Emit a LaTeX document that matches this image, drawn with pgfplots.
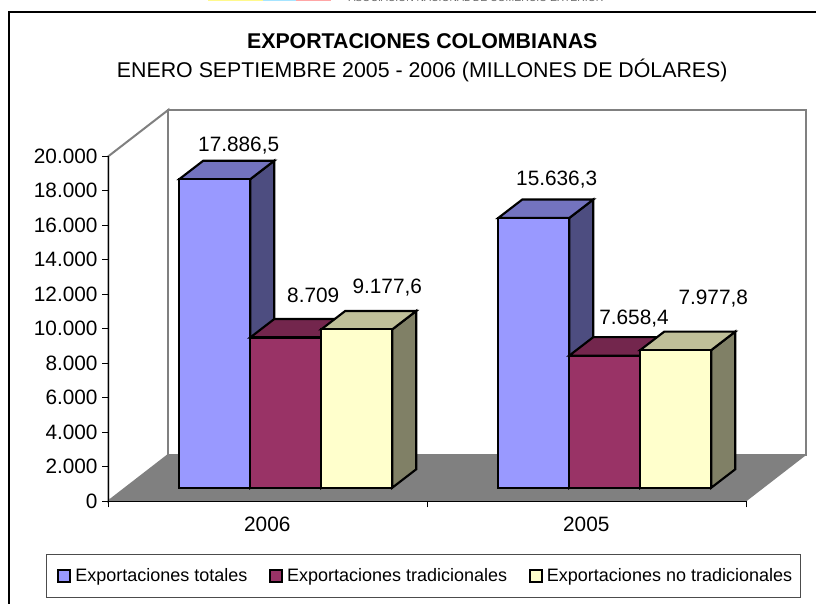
\documentclass[border=0pt]{standalone}
\usepackage{fontspec}
\setmainfont{Liberation Sans}
\usepackage{pgfplots}
\pgfplotsset{compat=1.18}

\definecolor{azul}{HTML}{9999FF}
\definecolor{azultop}{HTML}{7373BF}
\definecolor{azulside}{HTML}{4D4D80}
\definecolor{rojo}{HTML}{993366}
\definecolor{rojotop}{HTML}{73264D}
\definecolor{rojoside}{HTML}{4D1A33}
\definecolor{crema}{HTML}{FFFFCC}
\definecolor{crematop}{HTML}{BFBF99}
\definecolor{cremaside}{HTML}{808066}
\definecolor{piso}{HTML}{808080}

\newcommand{\fsize}[1]{\fontsize{#1}{#1}\selectfont}

% x runs in reference pixels from the axis origin, y in millones de dolares.
% Bars stand 790 above the floor edge; their depth is 24 in x and 1070 in y.
\begin{document}
\begin{tikzpicture}[x=1pt,y=1pt]
\begin{axis}[
    name=main,
    at={(0pt,0pt)}, anchor=origin,
    scale only axis, width=478.5pt, height=258.75pt,
    xmin=0, xmax=638, ymin=0, ymax=20000,
    clip=false, axis on top,
    axis x line=bottom, axis y line=left,
    axis line style={-, black, line width=0.8pt},
    tick style={black, line width=0.8pt},
    tick align=outside, major tick length=4.5pt,
    xtick={0,319,638}, xticklabels={},
    extra x ticks={159,478}, extra x tick labels={2006,2005},
    extra x tick style={major tick length=0pt},
    ytick={0,2000,...,20000},
    scaled y ticks=false,
    /pgf/number format/.cd, assume math mode=true, use comma=false, 1000 sep={.},
    /pgfplots/.cd,
    tick label style={font=\fsize{15.6pt}},
    xticklabel style={yshift=-8pt},
    legend columns=3,
    legend cell align=left,
    legend style={at={(-0.0981,-0.1528)}, anchor=north west,
        draw=black!70, line width=0.8pt, font=\fsize{13.5pt},
        inner xsep=4.5pt, inner ysep=8.5pt,
        /tikz/every even column/.append style={column sep=10.5pt}},
    legend image code/.code={
        \path[draw=none, fill=none] (-4.5pt,0pt) rectangle (10.8pt,0pt);
        \draw[#1, line width=1.5pt] (0pt,-4.4pt) rectangle (9pt,4.6pt);},
]
% walls and floor
\addplot[fill=white, draw=piso, line width=1.5pt, forget plot]
    coordinates {(0,0) (60,2690) (60,22690) (0,20000)} -- cycle;
\addplot[fill=white, draw=piso, line width=1.5pt, forget plot]
    coordinates {(60,2690) (698,2690) (698,22690) (60,22690)} -- cycle;
\addplot[fill=piso, draw=none, forget plot]
    coordinates {(0,0) (638,0) (698,2690) (60,2690)} -- cycle;

% 2006, Exportaciones totales 17886.5
\addplot[fill=azulside, draw=black, line width=1.6pt, forget plot]
    coordinates {(142,790) (166,1860) (166,19746.5) (142,18676.5)} -- cycle;
\addplot[fill=azultop, draw=black, line width=1.6pt, forget plot]
    coordinates {(71,18676.5) (142,18676.5) (166,19746.5) (95,19746.5)} -- cycle;
\addplot[fill=azul, draw=black, line width=1.6pt]
    coordinates {(71,790) (142,790) (142,18676.5) (71,18676.5)} -- cycle;
\addlegendentry{Exportaciones totales}

% 2006, Exportaciones tradicionales 8709
\addplot[fill=rojoside, draw=black, line width=1.6pt, forget plot]
    coordinates {(213,790) (237,1860) (237,10569) (213,9499)} -- cycle;
\addplot[fill=rojotop, draw=black, line width=1.6pt, forget plot]
    coordinates {(142,9499) (213,9499) (237,10569) (166,10569)} -- cycle;
\addplot[fill=rojo, draw=black, line width=1.6pt]
    coordinates {(142,790) (213,790) (213,9499) (142,9499)} -- cycle;
\addlegendentry{Exportaciones tradicionales}

% 2006, Exportaciones no tradicionales 9177.6
\addplot[fill=cremaside, draw=black, line width=1.6pt, forget plot]
    coordinates {(284,790) (308,1860) (308,11037.6) (284,9967.6)} -- cycle;
\addplot[fill=crematop, draw=black, line width=1.6pt, forget plot]
    coordinates {(213,9967.6) (284,9967.6) (308,11037.6) (237,11037.6)} -- cycle;
\addplot[fill=crema, draw=black, line width=1.6pt]
    coordinates {(213,790) (284,790) (284,9967.6) (213,9967.6)} -- cycle;
\addlegendentry{Exportaciones no tradicionales}

% 2005, Exportaciones totales 15636.3
\addplot[fill=azulside, draw=black, line width=1.6pt, forget plot]
    coordinates {(461,790) (485,1860) (485,17496.3) (461,16426.3)} -- cycle;
\addplot[fill=azultop, draw=black, line width=1.6pt, forget plot]
    coordinates {(390,16426.3) (461,16426.3) (485,17496.3) (414,17496.3)} -- cycle;
\addplot[fill=azul, draw=black, line width=1.6pt, forget plot]
    coordinates {(390,790) (461,790) (461,16426.3) (390,16426.3)} -- cycle;

% 2005, Exportaciones tradicionales 7658.4
\addplot[fill=rojoside, draw=black, line width=1.6pt, forget plot]
    coordinates {(532,790) (556,1860) (556,9518.4) (532,8448.4)} -- cycle;
\addplot[fill=rojotop, draw=black, line width=1.6pt, forget plot]
    coordinates {(461,8448.4) (532,8448.4) (556,9518.4) (485,9518.4)} -- cycle;
\addplot[fill=rojo, draw=black, line width=1.6pt, forget plot]
    coordinates {(461,790) (532,790) (532,8448.4) (461,8448.4)} -- cycle;

% 2005, Exportaciones no tradicionales 7977.8
\addplot[fill=cremaside, draw=black, line width=1.6pt, forget plot]
    coordinates {(603,790) (627,1860) (627,9837.8) (603,8767.8)} -- cycle;
\addplot[fill=crematop, draw=black, line width=1.6pt, forget plot]
    coordinates {(532,8767.8) (603,8767.8) (627,9837.8) (556,9837.8)} -- cycle;
\addplot[fill=crema, draw=black, line width=1.6pt, forget plot]
    coordinates {(532,790) (603,790) (603,8767.8) (532,8767.8)} -- cycle;

% value labels
\node[font=\fsize{15.6pt}] at (axis cs:130.4,20614) {17.886,5};
\node[font=\fsize{15.6pt}] at (axis cs:205,11919) {8.709};
\node[font=\fsize{15.6pt}] at (axis cs:279,12406) {9.177,6};
\node[font=\fsize{15.6pt}] at (axis cs:448.4,18626) {15.636,3};
\node[font=\fsize{15.6pt}] at (axis cs:525.7,10568) {7.658,4};
\node[font=\fsize{15.6pt}] at (axis cs:605,11727) {7.977,8};

% titles
\node[font=\fsize{16pt}\bfseries] at (axis cs:314,26650) {EXPORTACIONES COLOMBIANAS};
\node[font=\fsize{16pt}] at (axis cs:314,24950) {ENERO SEPTIEMBRE 2005 - 2006 (MILLONES DE DÓLARES)};
\end{axis}

% outer frame, open on the right and at the bottom
\draw[line width=1.5pt] (-74.5pt,-80pt) -- (-74.5pt,367pt) -- (535pt,367pt);
% remains of the letterhead cut off by the page edge
\fill[yellow!45] (74.8pt,375pt) rectangle (116pt,377pt);
\fill[blue!30!cyan!35] (116pt,375pt) rectangle (141pt,377pt);
\fill[red!35] (141pt,375pt) rectangle (167pt,377pt);
\node[font=\fsize{7.8pt}, text=black!60, anchor=base west, inner sep=0pt] at (180pt,374.6pt)
    {ASOCIACION NACIONAL DE COMERCIO EXTERIOR};

\pgfresetboundingbox
\path[use as bounding box] (-81.2pt,-76.3pt) rectangle (530.8pt,376pt);
\end{tikzpicture}
\end{document}
